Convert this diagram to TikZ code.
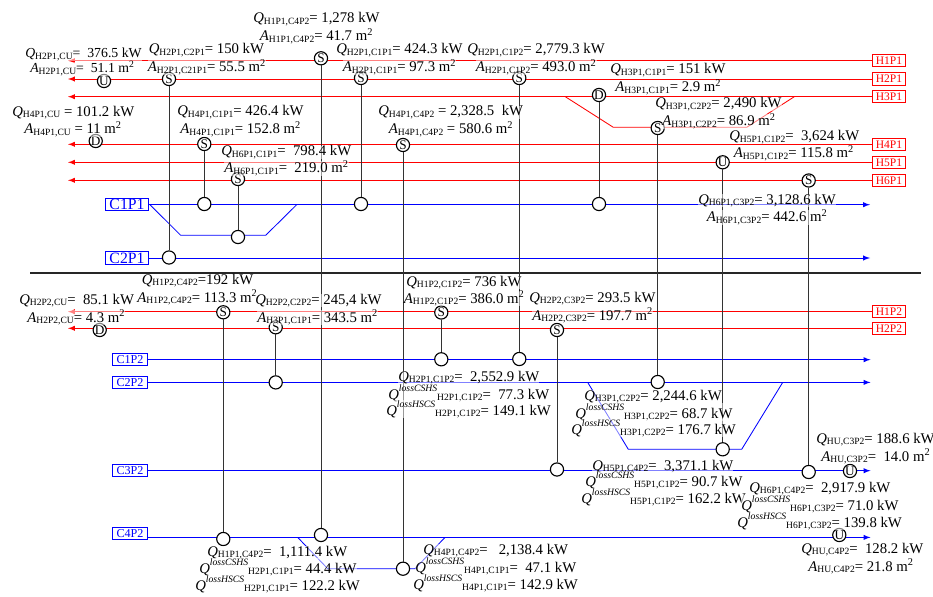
\documentclass[tikz,border=0pt]{standalone}
\usepackage{fontspec}
\setmainfont{Liberation Serif}
\newcommand{\subt}[1]{\raisebox{-1pt}{\fontsize{6.8}{8}\selectfont #1}}
\newcommand{\qh}[2]{\textit{Q}\subt{#1}#2}
\newcommand{\ah}[2]{\textit{A}\subt{#1}#2}
\newcommand{\ql}[3]{\textit{Q}\raisebox{5.6pt}{\fontsize{6.9}{8}\selectfont\itshape loss#1}\subt{#2}#3}
\newcommand{\msq}{m\textsuperscript{2}}
\tikzset{
  hotline/.style={red, line width=0.7pt, ->},
  coldline/.style={blue, line width=0.7pt, ->},
  hotpass/.style={red, line width=0.6pt},
  coldpass/.style={blue, line width=0.6pt},
  hotbox/.style={draw=red, text=red, line width=0.7pt, inner sep=0pt, minimum width=0.84cm, minimum height=0.31cm, font=\fontsize{8.2}{9}\selectfont},
  coldbox/.style={draw=blue, text=blue, line width=0.7pt, inner sep=0pt, minimum width=0.86cm, minimum height=0.31cm, font=\fontsize{8.6}{9}\selectfont},
  bigcold/.style={coldbox, minimum width=1.07cm, font=\fontsize{11.2}{12}\selectfont},
  hx/.style={circle, draw, fill=white, line width=0.8pt, inner sep=0pt, minimum size=0.33cm, font=\fontsize{9.4}{10}\selectfont},
  link/.style={line width=0.7pt, black!80},
  lab/.style={anchor=base west, inner sep=0pt, fill=white, fill opacity=0.5, text opacity=1, font=\fontsize{10.5}{12}\selectfont},
  labsm/.style={lab, font=\fontsize{9.8}{11}\selectfont}
}
\begin{document}
\begin{tikzpicture}[>=latex, x=0.025cm, y=-0.025cm]
  \useasboundingbox (0,0) rectangle (933,597);
  % streams
  \foreach \name/\y in {H1P1/60.7,H2P1/79,H3P1/96.7,H4P1/144.3,H5P1/162.3,H6P1/180.3,H1P2/311.7,H2P2/328.3}{
    \node[hotbox] (\name) at (889,\y) {\name};
    \coordinate (\name end) at (68,\y);
    \draw[hotline] (\name) -- (\name end);}
  \foreach \name/\y in {C1P1/204.7,C2P1/258}{
    \node[bigcold] (\name) at (127,\y) {\name};
    \coordinate (\name end) at (870,\y);
    \draw[coldline] (\name) -- (\name end);}
  \foreach \name/\y in {C1P2/359.7,C2P2/382.4,C3P2/470.7}{
    \node[coldbox] (\name) at (130,\y) {\name};
    \coordinate (\name end) at (870.5,\y);
    \draw[coldline] (\name) -- (\name end);}
  \node[coldbox] (C4P2) at (130,533.5) {C4P2};
  \coordinate (C4P2 end) at (870.5,537.4);
  \draw[coldline] (C4P2.east |- C4P2 end) -- (C4P2 end);
  % separator
  \coordinate (sepl) at (30,273);
  \coordinate (sepr) at (921,273);
  \draw[line width=1.1pt, black!85] (sepl) -- (sepr);
  % bypasses
  \coordinate (pa1) at (150,204.7); \coordinate (pa2) at (180.7,235.3);
  \coordinate (pa3) at (265.7,235.3); \coordinate (pa4) at (296.7,204.7);
  \draw[coldpass] (pa1) -- (pa2) -- (pa3) -- (pa4);
  \coordinate (pb1) at (565.3,96.7); \coordinate (pb2) at (613.3,127.3);
  \coordinate (pb3) at (746.7,127.3); \coordinate (pb4) at (794.3,96.7);
  \draw[hotpass] (pb1) -- (pb2) -- (pb3) -- (pb4);
  \coordinate (pc1) at (587.7,382.4); \coordinate (pc2) at (628.3,449.3);
  \coordinate (pc3) at (741.7,449.3); \coordinate (pc4) at (782.7,382.4);
  \draw[coldpass] (pc1) -- (pc2) -- (pc3) -- (pc4);
  \coordinate (pd1) at (297.7,537.4); \coordinate (pd2) at (327.7,568.7);
  \coordinate (pd3) at (415,568.7); \coordinate (pd4) at (445,537.4);
  \draw[coldpass] (pd1) -- (pd2) -- (pd3) -- (pd4);
  % exchangers
  \foreach \name/\kind/\x/\y in {
    ua/U/104/81, da/D/95.7/141, db/D/99.7/330, uc/U/850/471, ud/U/839.3/535,
    sa/S/321/58.3, sb/S/169/79, sc/S/361/78, sd/S/204.3/144, se/S/238/179,
    sf/S/403/145, sg/S/519.3/78, dc/D/599/95, sh/S/657.7/128, ub/U/722.7/162.3,
    si/S/808.7/180.5, sj/S/223.3/312.3, sk/S/275.7/327.3, sl/S/441.3/312.5, sm/S/557/330}{
    \node[hx] (\name) at (\x,\y) {\kind};}
  \foreach \name/\x/\y in {
    ca/321/535, cb/169/257.5, cc/361/204, cd/204.3/204, ce/238/237,
    cf/403/568.7, cg/519.3/359, ch/599/204, ci/657.7/382, cj/722.7/449.3,
    ck/808.7/472, cl/223.3/539, cm/275.7/382.4, cn/441.3/359.3, co/557/469.5}{
    \node[hx] (\name) at (\x,\y) {};}
  \foreach \a/\b in {sa/ca,sb/cb,sc/cc,sd/cd,se/ce,sf/cf,sg/cg,dc/ch,sh/ci,ub/cj,si/ck,sj/cl,sk/cm,sl/cn,sm/co}{
    \draw[link] (\a) -- (\b);}
  % labels, upper part
  \node[lab] (q1) at (253,23) {\qh{H1P1,C4P2}{= 1,278 kW}};
  \node[lab] (a1) at (259.5,41) {\ah{H1P1,C4P2}{= 41.7 \msq}};
  \node[labsm] (q2) at (25,58) {\qh{H2P1,CU}{=~~376.5 kW}};
  \node[labsm] (a2) at (30,73) {\ah{H2P1,CU}{=~~51.1 \msq}};
  \node[lab] (q3) at (148.5,54) {\qh{H2P1,C2P1}{= 150 kW}};
  \node[lab] (a3) at (147.5,72) {\ah{H2P1,C21P1}{= 55.5 \msq}};
  \node[lab] (q4) at (336,54) {\qh{H2P1,C1P1}{= 424.3 kW}};
  \node[lab] (a4) at (342.5,72) {\ah{H2P1,C1P1}{= 97.3 \msq}};
  \node[lab] (q5) at (12,116.5) {\qh{H4P1,CU}{ = 101.2 kW}};
  \node[lab] (a5) at (24,134) {\ah{H4P1,CU}{ = 11 \msq}};
  \node[lab] (q6) at (177,116) {\qh{H4P1,C1P1}{= 426.4 kW}};
  \node[lab] (a6) at (180,134) {\ah{H4P1,C1P1}{= 152.8 \msq}};
  \node[lab] (q7) at (221,156) {\qh{H6P1,C1P1}{=~~798.4 kW}};
  \node[lab] (a7) at (224,173) {\ah{H6P1,C1P1}{=~~219.0 \msq}};
  \node[lab] (q8) at (378,116) {\qh{H4P1,C4P2}{ = 2,328.5~~kW}};
  \node[lab] (a8) at (388.5,134) {\ah{H4P1,C4P2}{ = 580.6 \msq}};
  \node[lab] (q9) at (467,54) {\qh{H2P1,C1P2}{= 2,779.3 kW}};
  \node[lab] (a9) at (475.5,72) {\ah{H2P1,C1P2}{= 493.0 \msq}};
  \node[lab] (q10) at (610,74) {\qh{H3P1,C1P1}{= 151 kW}};
  \node[lab] (a10) at (615,92) {\ah{H3P1,C1P1}{= 2.9 \msq}};
  \node[lab] (q11) at (655,108) {\qh{H3P1,C2P2}{= 2,490 kW}};
  \node[lab] (a11) at (662,126) {\ah{H3P1,C2P2}{= 86.9 \msq}};
  \node[lab] (q12) at (729,141) {\qh{H5P1,C1P2}{=~~3,624 kW}};
  \node[lab] (a12) at (733.5,158) {\ah{H5P1,C1P2}{= 115.8 \msq}};
  \node[lab] (q13) at (698,204.5) {\qh{H6P1,C3P2}{= 3,128.6 kW}};
  \node[lab] (a13) at (706.5,222) {\ah{H6P1,C3P2}{= 442.6 \msq}};
  % labels, lower part
  \node[lab] (q14) at (141.5,284) {\qh{H1P2,C4P2}{=192 kW}};
  \node[lab] (a14) at (137,302) {\ah{H1P2,C4P2}{= 113.3 \msq}};
  \node[lab] (q15) at (19,304) {\qh{H2P2,CU}{=~~85.1 kW}};
  \node[lab] (a15) at (27,322) {\ah{H2P2,CU}{= 4.3 \msq}};
  \node[lab] (q16) at (255,304) {\qh{H2P2,C2P2}{= 245,4 kW}};
  \node[lab] (a16) at (257,322) {\ah{H3P1,C1P1}{= 343.5 \msq}};
  \node[lab] (q17) at (406,286) {\qh{H1P2,C1P2}{= 736 kW}};
  \node[lab] (a17) at (403.5,303) {\ah{H1P2,C1P2}{= 386.0 \msq}};
  \node[lab] (q18) at (529,302) {\qh{H2P2,C3P2}{= 293.5 kW}};
  \node[lab] (a18) at (532,320) {\ah{H2P2,C3P2}{= 197.7 \msq}};
  \node[lab] (q19) at (398,381) {\qh{H2P1,C1P2}{=~~2,552.9 kW}};
  \node[lab] (l19) at (388,399) {\ql{CSHS}{H2P1,C1P2}{=~~77.3 kW}};
  \node[lab] (m19) at (386,415) {\ql{HSCS}{H2P1,C1P2}{= 149.1 kW}};
  \node[lab] (q20) at (584,400) {\qh{H3P1,C2P2}{= 2,244.6 kW}};
  \node[lab] (l20) at (575,418) {\ql{CSHS}{H3P1,C2P2}{= 68.7 kW}};
  \node[lab] (m20) at (571,434) {\ql{HSCS}{H3P1,C2P2}{= 176.7 kW}};
  \node[lab] (q21) at (816,443) {\qh{HU,C3P2}{= 188.6 kW}};
  \node[lab] (a21) at (821,461) {\ah{HU,C3P2}{=~~14.0 \msq}};
  \node[lab] (q22) at (592,470) {\qh{H5P1,C4P2}{=~~3,371.1 kW}};
  \node[lab] (l22) at (585,486) {\ql{CSHS}{H5P1,C1P2}{= 90.7 kW}};
  \node[lab] (m22) at (581,503) {\ql{HSCS}{H5P1,C1P2}{= 162.2 kW}};
  \node[lab] (q23) at (749,492) {\qh{H6P1,C4P2}{=~~2,917.9 kW}};
  \node[lab] (l23) at (741,510) {\ql{CSHS}{H6P1,C3P2}{= 71.0 kW}};
  \node[lab] (m23) at (737,527) {\ql{HSCS}{H6P1,C3P2}{= 139.8 kW}};
  \node[lab] (q24) at (801,553) {\qh{HU,C4P2}{=~~128.2 kW}};
  \node[lab] (a24) at (808,571) {\ah{HU,C4P2}{= 21.8 \msq}};
  \node[lab] (q25) at (207,556) {\qh{H1P1,C4P2}{=~~1,111.4 kW}};
  \node[lab] (l25) at (199,573) {\ql{CSHS}{H2P1,C1P1}{= 44.4 kW}};
  \node[lab] (m25) at (195,590) {\ql{HSCS}{H2P1,C1P1}{= 122.2 kW}};
  \node[lab] (q26) at (423,554) {\qh{H4P1,C4P2}{=~~~2,138.4 kW}};
  \node[lab] (l26) at (415,572) {\ql{CSHS}{H4P1,C1P1}{=~~47.1 kW}};
  \node[lab] (m26) at (413,589) {\ql{HSCS}{H4P1,C1P1}{= 142.9 kW}};
\end{tikzpicture}
\end{document}
